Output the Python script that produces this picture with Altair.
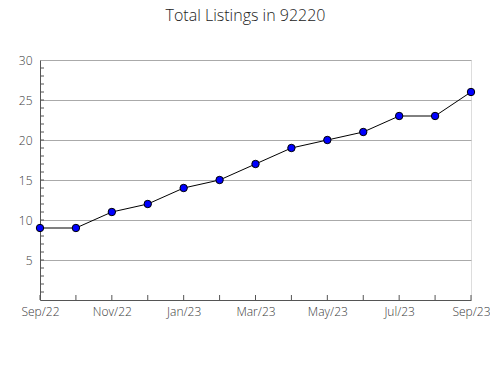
import altair as alt
import pandas as pd

months = ["Sep/22", "Oct/22", "Nov/22", "Dec/22", "Jan/23", "Feb/23", "Mar/23",
          "Apr/23", "May/23", "Jun/23", "Jul/23", "Aug/23", "Sep/23"]
listings = [9, 9, 11, 12, 14, 15, 17, 19, 20, 21, 23, 23, 26]
y_major = [0, 5, 10, 15, 20, 25, 30]
y_minor = list(range(1, 30))
x_ticks = list(range(0, 13))

df = pd.DataFrame({"i": list(range(len(months))), "month": months, "value": listings})

W, H = 431, 240
FONT = "Open Sans"

label_expr = "datum.value % 2 == 0 ? " + str(months) + "[datum.value] : ''"

xscale = alt.Scale(domain=[0, 12], nice=False, zero=False)
yscale = alt.Scale(domain=[0, 30], nice=False)

base = alt.Chart(df)

line = base.mark_line(color="black", strokeWidth=1).encode(
    x=alt.X("i:Q", scale=xscale, title=None,
            axis=alt.Axis(values=x_ticks, labelExpr=label_expr, grid=False, ticks=False,
                          domainColor="#555", labelColor="#3a3a3a", labelFontSize=12,
                          labelFont=FONT, labelFontWeight=300, labelPadding=6, labelFlush=False)),
    y=alt.Y("value:Q", scale=yscale, title=None,
            axis=alt.Axis(values=y_major[1:], grid=True, gridColor="#aaa", ticks=False,
                          domainColor="#555", labelColor="#3a3a3a", labelFontSize=12,
                          labelFont=FONT, labelFontWeight=300, labelPadding=8)),
)
pts = base.mark_point(filled=True, fill="#0000ff", stroke="black", strokeWidth=1,
                      size=55, opacity=1, shape="circle").encode(
    x=alt.X("i:Q", scale=xscale),
    y=alt.Y("value:Q", scale=yscale),
)

yt = alt.Chart(pd.DataFrame({"t": y_minor})).mark_rule(color="#555", strokeWidth=1).encode(
    y=alt.Y("t:Q", scale=yscale), x=alt.value(0), x2=alt.value(4))
xt = alt.Chart(pd.DataFrame({"t": x_ticks})).mark_rule(color="#555", strokeWidth=1).encode(
    x=alt.X("t:Q", scale=xscale), y=alt.value(H - 5), y2=alt.value(H))

chart = alt.layer(yt, xt, line, pts).properties(
    width=W, height=H,
    title=alt.TitleParams("Total Listings in 92220", font=FONT, fontSize=16,
                          fontWeight=300, color="#222", anchor="middle", dx=-10, offset=30),
    autosize=alt.AutoSizeParams(type="none"),
    padding={"left": 40, "top": 60, "right": 19, "bottom": 80},
).configure_view(stroke=None).configure(background="white")

chart.save("out.html", embed_options={"renderer": "svg", "actions": False})
